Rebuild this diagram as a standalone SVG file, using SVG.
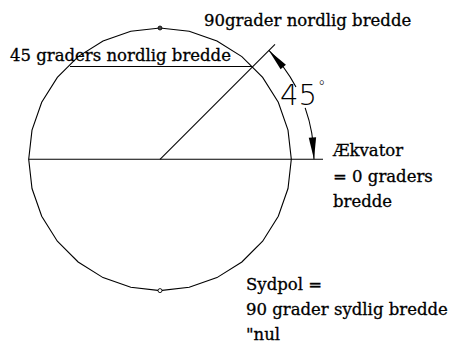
<svg xmlns="http://www.w3.org/2000/svg" width="453" height="345" viewBox="0 0 453 345">
<style>
.ln{fill:none;stroke:#000;stroke-width:1.1}
.lbl{font-family:"DejaVu Serif","Liberation Serif",serif;font-size:16.5px;fill:#000;stroke:#000;stroke-width:0.3}
.ang{font-family:"DejaVu Sans","Liberation Sans",sans-serif;font-weight:200;font-size:29px;fill:#000}
.ah{fill:#000;stroke:none}
</style>
<rect width="453" height="345" fill="#fff"/>
<g id="globe">
<polygon class="ln" points="160,28 189.21,31.3 216.97,41 241.87,56.65 262.65,77.43 278.3,102.33 288,130.09 291.3,159.3 288,188.51 278.3,216.27 262.65,241.17 241.87,261.95 216.97,277.6 189.21,287.3 160,290.6 130.79,287.3 103.03,277.6 78.13,261.95 57.35,241.17 41.7,216.27 32,188.51 28.7,159.3 32,130.09 41.7,102.33 57.35,77.43 78.13,56.65 103.03,41 130.79,31.3"/>
<circle id="nordpol" cx="160" cy="28" r="2" fill="#444" stroke="#000" stroke-width="0.8"/>
<circle id="sydpol" cx="160" cy="290.6" r="2" fill="#fff" stroke="#000" stroke-width="0.9"/>
</g>
<g id="connectors">
<line class="ln" x1="28.7" y1="159.3" x2="323" y2="159.3"/>
<line class="ln" x1="70" y1="66.5" x2="252" y2="66.5"/>
<line class="ln" x1="160" y1="159.3" x2="275" y2="44.3"/>
<path class="ln" d="M268.89 50.41 A154 154 0 0 1 295.97 86.98"/>
<path class="ln" d="M305.16 107.89 A154 154 0 0 1 314 159.3"/>
<polygon class="ah" points="268.89,50.41 285.91,64.69 280.61,69.27"/>
<polygon class="ah" points="314,159.3 316.12,137.13 308.74,137.65"/>
</g>
<g id="labels">
<text class="lbl" x="204" y="26">90grader nordlig bredde</text>
<text class="lbl" x="10" y="61">45 graders nordlig bredde</text>
<text class="ang" x="280" y="105">45<tspan font-size="15" dx="1" dy="-13">°</tspan></text>
<text class="lbl" x="333" y="156">Ækvator</text>
<text class="lbl" x="333" y="182">= 0 graders</text>
<text class="lbl" x="333" y="207">bredde</text>
<text class="lbl" x="246" y="290">Sydpol =</text>
<text class="lbl" x="246" y="315">90 grader sydlig bredde</text>
<text class="lbl" x="246" y="340">"nul</text>
</g>
</svg>
